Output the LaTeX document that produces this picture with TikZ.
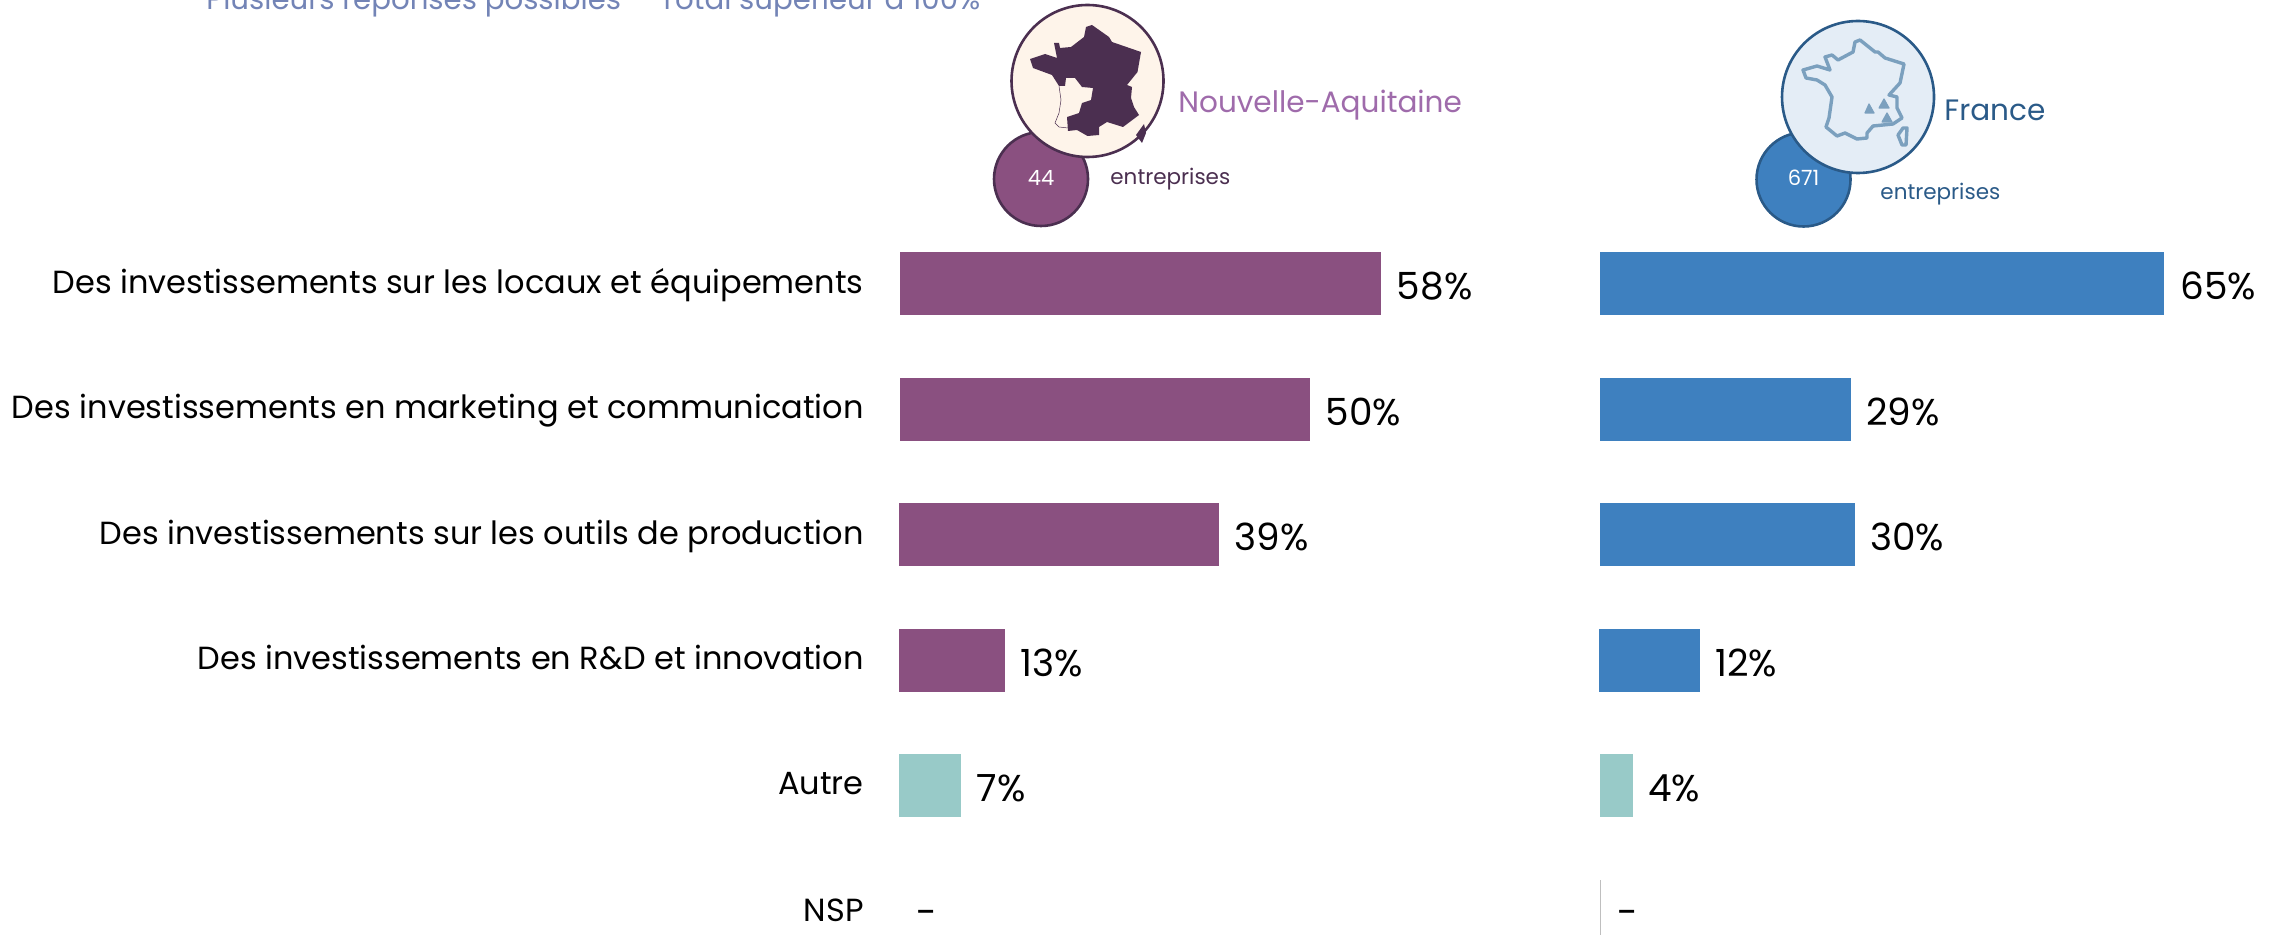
\documentclass[tikz,border=0pt]{standalone}
\usepackage{fontspec}
\setmainfont{Poppins}
\definecolor{plum}{HTML}{8A5080}
\definecolor{plumdark}{HTML}{4B2F50}
\definecolor{plumtxt}{HTML}{9F6BAB}
\definecolor{cream}{HTML}{FEF4EA}
\definecolor{blue1}{HTML}{3E80BF}
\definecolor{bluedark}{HTML}{2A5A88}
\definecolor{bluepale}{HTML}{E4EDF6}
\definecolor{mapline}{HTML}{7BA0BE}
\definecolor{teal1}{HTML}{98CAC8}
\definecolor{topblue}{HTML}{7384B6}
\tikzset{
 x=0.5pt,y=-0.5pt,
 lab/.style={anchor=base east,inner sep=0pt,font=\fontsize{16}{18}\selectfont,text=black},
 pct/.style={anchor=base west,inner sep=0pt,font=\fontsize{18.7}{20}\selectfont,text=black},
 barA/.style={fill=plum,draw=none},
 barB/.style={fill=blue1,draw=none},
 barC/.style={fill=teal1,draw=none},
 bigA/.style={circle,draw=plumdark,line width=1.3pt,fill=cream,minimum size=76pt,inner sep=0pt},
 bigB/.style={circle,draw=bluedark,line width=1.3pt,fill=bluepale,minimum size=76pt,inner sep=0pt},
 smallA/.style={circle,draw=plumdark,line width=1.3pt,fill=plum,minimum size=47pt,inner sep=0pt},
 smallB/.style={circle,draw=bluedark,line width=1.3pt,fill=blue1,minimum size=47pt,inner sep=0pt},
 num/.style={inner sep=0pt,text=white,font=\fontsize{10.5}{12}\selectfont},
 toptxt/.style={anchor=base west,inner sep=0pt,text=topblue,font=\fontsize{14.6}{16}\selectfont},
 region/.style={anchor=base west,inner sep=0pt,font=\fontsize{14.75}{18}\selectfont},
 ent/.style={anchor=base west,inner sep=0pt,font=\fontsize{10.75}{12}\selectfont},
 peak/.style={fill=mapline,line join=round,draw=mapline,line width=0.6pt},
}
\begin{document}
\begin{tikzpicture}
\useasboundingbox (0,0) rectangle (2279,935);
\node[toptxt] (t1) at (206,10) {Plusieurs réponses possibles};
\node[toptxt] (t2) at (659,10) {Total supérieur à 100\%};
% Nouvelle-Aquitaine header
\node[smallA] (nA) at (1041,179) {};
\node[num] (vA) at (1041,177.5) {44};
\node[bigA] (cA) at (1087.5,81) {};
\fill[plumdark] (1030,59) -- (1045,54) -- (1057,58) -- (1054,43) -- (1059,43) -- (1060,48) -- (1071,47) -- (1084,37) -- (1086,27) -- (1092,25) -- (1109,37) -- (1112,42) -- (1141,52) -- (1137.5,72) -- (1127,85) -- (1132,87) -- (1131,98) -- (1134,107) -- (1139,115) -- (1123,127) -- (1107,122) -- (1099,127) -- (1099,135) -- (1087.5,136) -- (1077,130) -- (1068,131) -- (1067,117) -- (1079,113) -- (1082,103) -- (1091,100) -- (1093,88) -- (1082,87) -- (1075,78) -- (1066,78) -- (1065,86) -- (1059,86) -- (1052,75) -- (1033,68) -- cycle;
\draw[plumdark,line width=0.25pt] (1059,86) -- (1061,100) -- (1059,113) -- (1055,123) -- (1059,127) -- (1068,128);
\fill[plumdark] (1144,124) -- (1146,133) -- (1142,143) -- (1136,135) -- cycle;
\node[region,text=plumtxt] (lA) at (1178,113) {Nouvelle-Aquitaine};
\node[ent,text=plumdark] (eA) at (1110,184.5) {entreprises};
% France header
\node[smallB] (nB) at (1803.5,179.5) {};
\node[num] (vB) at (1803.5,177.5) {671};
\node[bigB] (cB) at (1858,97) {};
\draw[mapline,line width=1.7pt,line join=round] (1803,70) -- (1817,66) -- (1830,70) -- (1825,57) -- (1832,55) -- (1838,60) -- (1853,52) -- (1855,42) -- (1860,40) -- (1875,52) -- (1878,52) -- (1885,58) -- (1904,64) -- (1900,83) -- (1889,95) -- (1897,97) -- (1897,108) -- (1902,118) -- (1893,124) -- (1873,126) -- (1867,133) -- (1867,138) -- (1857,139) -- (1845,133) -- (1837,136) -- (1826,127) -- (1829,118) -- (1832,97) -- (1825,85) -- (1817,80) -- (1806,78) -- cycle;
\draw[mapline,line width=1.7pt,line join=round] (1903,128) -- (1907,128) -- (1906,145) -- (1902,145) -- (1898,135) -- cycle;
\fill[peak] (1869,104) -- (1874,113) -- (1865,113) -- cycle;
\fill[peak] (1884,99) -- (1889,108) -- (1879,108) -- cycle;
\fill[peak] (1887,113) -- (1892,122) -- (1882,122) -- cycle;
\node[region,text=bluedark] (lB) at (1944,121) {France};
\node[ent,text=bluedark] (eB) at (1880,199.5) {entreprises};
% rows
\node[lab] (r1) at (864,294) {Des investissements sur les locaux et équipements};
\node[lab] (r2) at (864,418) {Des investissements en marketing et communication};
\node[lab] (r3) at (864,544) {Des investissements sur les outils de production};
\node[lab] (r4) at (864,669) {Des investissements en R\&D et innovation};
\node[lab] (r5) at (864,794) {Autre};
\node[lab] (r6) at (864,921) {NSP};
\fill[barA] (900,252) rectangle (1381,315);
\fill[barA] (900,378) rectangle (1310,441);
\fill[barA] (899,503) rectangle (1219,566);
\fill[barA] (899,629) rectangle (1005,692);
\fill[barC] (899,754) rectangle (961,817);
\fill[barB] (1600,252) rectangle (2164,315);
\fill[barB] (1600,378) rectangle (1851,441);
\fill[barB] (1600,503) rectangle (1855,566);
\fill[barB] (1599,629) rectangle (1700,692);
\fill[barC] (1600,754) rectangle (1633,817);
\draw[black!25,line width=0.5pt] (1600.5,880) -- (1600.5,935);
\node[pct] (a1) at (1396.5,300) {58\%};
\node[pct] (a2) at (1325.5,425) {50\%};
\node[pct] (a3) at (1234.5,550) {39\%};
\node[pct] (a4) at (1020,676) {13\%};
\node[pct] (a5) at (976.5,801) {7\%};
\node[pct] (a6) at (916,925) {-};
\node[pct] (b1) at (2180,300) {65\%};
\node[pct] (b2) at (1866,425) {29\%};
\node[pct] (b3) at (1870,550) {30\%};
\node[pct] (b4) at (1715,676) {12\%};
\node[pct] (b5) at (1648,801) {4\%};
\node[pct] (b6) at (1617,925) {-};
\end{tikzpicture}
\end{document}
